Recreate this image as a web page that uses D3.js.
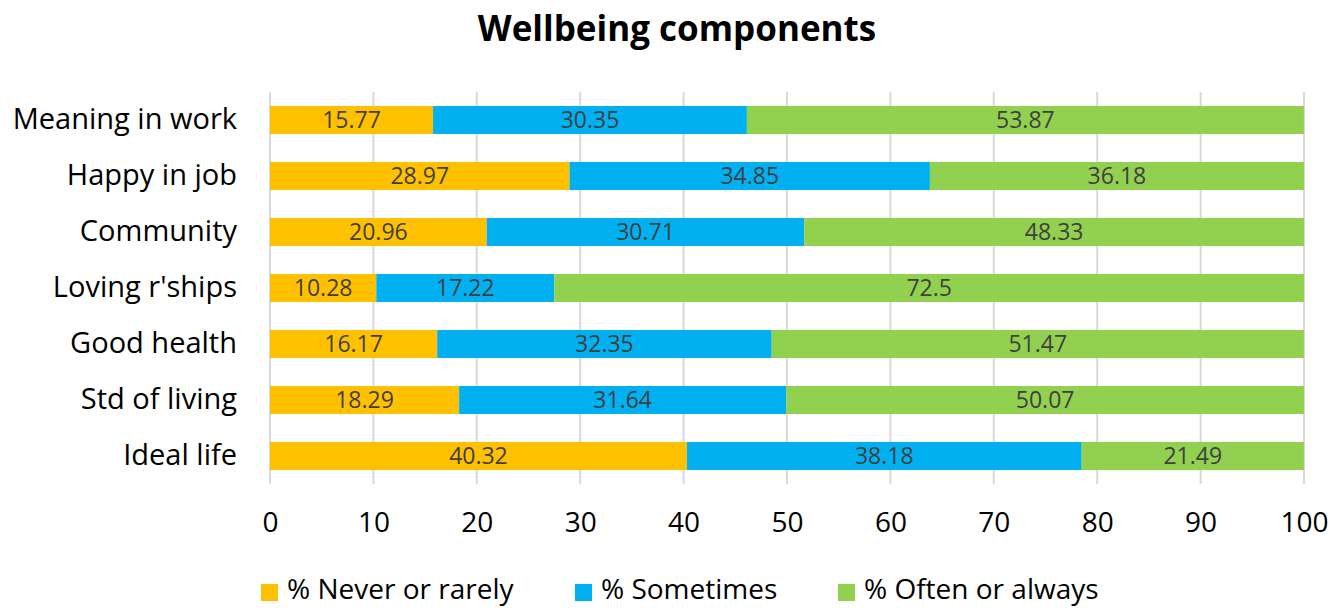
<!DOCTYPE html>
<html>
<head>
<meta charset="utf-8">
<script src="https://cdn.jsdelivr.net/npm/d3@7"></script>
<style>
  body { margin: 0; background: #fff; }
  text { font-family: "Open Sans", Lato, sans-serif; }
</style>
</head>
<body>
<div id="chart-container"></div>
<script>
// Chart values
const categories = ["Meaning in work", "Happy in job", "Community", "Loving r'ships", "Good health", "Std of living", "Ideal life"];
const seriesNames = ["% Never or rarely", "% Sometimes", "% Often or always"];
const neverRarely = [15.77, 28.97, 20.96, 10.28, 16.17, 18.29, 40.32];
const sometimes = [30.35, 34.85, 30.71, 17.22, 32.35, 31.64, 38.18];
const oftenAlways = [53.87, 36.18, 48.33, 72.5, 51.47, 50.07, 21.49];
const valueLabels = [
  ["15.77", "28.97", "20.96", "10.28", "16.17", "18.29", "40.32"],
  ["30.35", "34.85", "30.71", "17.22", "32.35", "31.64", "38.18"],
  ["53.87", "36.18", "48.33", "72.5", "51.47", "50.07", "21.49"]
];
const xTicks = [0, 10, 20, 30, 40, 50, 60, 70, 80, 90, 100];
const colors = ["#FFC000", "#00B0F0", "#92D050"];

const W = 1332, H = 609;
const margin = { top: 92, right: 28, bottom: 125, left: 270 };
const width = W - margin.left - margin.right;
const height = H - margin.top - margin.bottom;

const svg = d3.select("#chart-container")
  .append("svg")
  .attr("width", W)
  .attr("height", H);

// Title
svg.append("text")
  .attr("x", 677)
  .attr("y", 41)
  .attr("text-anchor", "middle")
  .style("font-size", "35px")
  .style("font-weight", "bold")
  .style("fill", "#000")
  .text("Wellbeing components");

const g = svg.append("g")
  .attr("transform", `translate(${margin.left},${margin.top})`);

const x = d3.scaleLinear().domain([0, 100]).range([0, width]);
const y = d3.scaleBand().domain(categories).range([0, height]).paddingInner(0.5).paddingOuter(0.25);

// Vertical gridlines
g.selectAll(".grid")
  .data(xTicks)
  .join("line")
  .attr("x1", d => x(d))
  .attr("x2", d => x(d))
  .attr("y1", 0)
  .attr("y2", height)
  .attr("stroke", "#d9d9d9")
  .attr("stroke-width", 2);

// Stack the data
const rows = categories.map((c, i) => ({ cat: c, idx: i, s0: neverRarely[i], s1: sometimes[i], s2: oftenAlways[i] }));
const stack = d3.stack().keys(["s0", "s1", "s2"]);
const layers = stack(rows);

layers.forEach((layer, li) => {
  const lg = g.append("g");
  lg.selectAll("rect")
    .data(layer)
    .join("rect")
    .attr("x", d => x(d[0]))
    .attr("width", d => x(d[1]) - x(d[0]))
    .attr("y", d => y(d.data.cat))
    .attr("height", y.bandwidth())
    .attr("fill", colors[li]);
  lg.selectAll("text")
    .data(layer)
    .join("text")
    .attr("x", d => (x(d[0]) + x(d[1])) / 2)
    .attr("y", d => y(d.data.cat) + y.bandwidth() / 2)
    .attr("dy", "0.36em")
    .attr("text-anchor", "middle")
    .style("font-size", "23px")
    .style("fill", "#404040")
    .text(d => valueLabels[li][d.data.idx]);
});

// Y axis labels
g.append("g")
  .call(d3.axisLeft(y).tickSize(0).tickPadding(33))
  .call(a => a.select(".domain").remove())
  .selectAll("text")
  .style("font-size", "29px")
  .style("font-family", "'Open Sans', Lato, sans-serif")
  .style("fill", "#000");

// X axis
g.append("g")
  .attr("transform", `translate(0,${height})`)
  .call(d3.axisBottom(x).tickValues(xTicks).tickSize(0).tickPadding(28))
  .call(a => a.select(".domain").remove())
  .selectAll("text")
  .style("font-size", "28px")
  .style("font-family", "'Open Sans', Lato, sans-serif")
  .style("fill", "#000");

// Legend
const legendX = [261, 575, 838];
const legend = svg.append("g");
seriesNames.forEach((name, i) => {
  legend.append("rect")
    .attr("x", legendX[i])
    .attr("y", 584)
    .attr("width", 17)
    .attr("height", 17)
    .attr("fill", colors[i]);
  legend.append("text")
    .attr("x", legendX[i] + 26)
    .attr("y", 589)
    .attr("dy", "0.36em")
    .style("font-size", "28px")
    .style("fill", "#000")
    .text(name);
});
</script>
</body>
</html>
